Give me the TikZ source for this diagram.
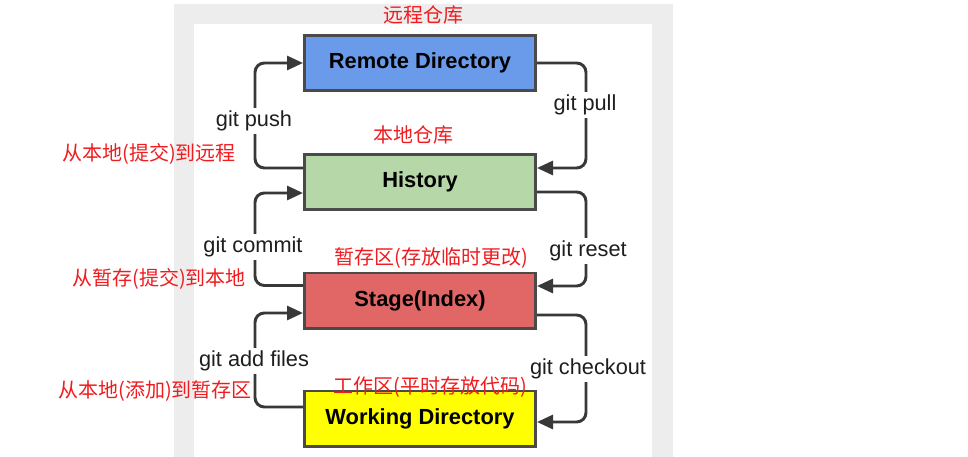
\documentclass[tikz,border=0pt]{standalone}
\usepackage{fontspec}
\setmainfont{Liberation Sans}
\newfontfamily\cjk{Noto Sans CJK SC}
\usetikzlibrary{arrows.meta,calc}
\definecolor{panel}{HTML}{ECEDEC}
\definecolor{boxline}{HTML}{4A4A4A}
\definecolor{linec}{HTML}{383838}
\definecolor{labc}{HTML}{1E1E1E}
\definecolor{cnred}{RGB}{240,28,32}
\definecolor{cblue}{RGB}{106,155,234}
\definecolor{cgreen}{RGB}{182,216,168}
\definecolor{cred}{RGB}{225,102,102}
\definecolor{cyellow}{RGB}{255,255,0}
\begin{document}
\begin{tikzpicture}[x=0.75pt,y=-0.75pt,
  box/.style={draw=boxline, line width=2pt, inner sep=0pt,
    minimum width=173.5pt, minimum height=41.5pt,
    font=\fontsize{16.4pt}{19pt}\selectfont\bfseries, text=black},
  conn/.style={draw=linec, line width=2.2pt, rounded corners=7pt,
    -{Triangle[length=12pt,width=10.5pt]}},
  glab/.style={fill=white, inner sep=2pt, text=labc,
    font=\fontsize{16.3pt}{19pt}\selectfont},
  cnlab/.style={inner sep=0pt, text=cnred, font=\cjk\fontsize{15pt}{18pt}\selectfont}]
\useasboundingbox (0,0) rectangle (968,457);
\fill[white] (0,0) rectangle (968,457);
\fill[panel] (174,4) rectangle (673,457);
\fill[white] (194,24) rectangle (652,457);

\node[box, fill=cblue] (remote) at (420,63) {Remote Directory};
\node[box, fill=cgreen] (hist) at (420,182) {History};
\node[box, fill=cred] (stage) at (420,300.5) {Stage(Index)};
\node[box, fill=cyellow] (work) at (420,418.5) {Working Directory};

\coordinate (L) at (255,0);
\coordinate (R) at (586,0);

% left side
\coordinate (pushS) at ($(hist.west)+(0,-14)$);
\coordinate (pushE) at (remote.west);
\coordinate (comS) at ($(stage.west)+(0,-15)$);
\coordinate (comE) at ($(hist.west)+(0,11)$);
\coordinate (addS) at ($(work.west)+(0,-11.5)$);
\coordinate (addE) at ($(stage.west)+(0,12.5)$);
% right side
\coordinate (pullS) at (remote.east);
\coordinate (pullE) at ($(hist.east)+(0,-14)$);
\coordinate (resS) at ($(hist.east)+(0,10)$);
\coordinate (resE) at ($(stage.east)+(0,-14.5)$);
\coordinate (coS) at ($(stage.east)+(0,14.5)$);
\coordinate (coE) at ($(work.east)+(0,3.5)$);

\draw[conn] (pushS) -| (L |- pushE) -- (pushE);
\draw[conn] (comS) -| (L |- comE) -- (comE);
\draw[conn] (addS) -| (L |- addE) -- (addE);
\draw[conn] (pullS) -| (R |- pullE) -- (pullE);
\draw[conn] (resS) -| (R |- resE) -- (resE);
\draw[conn] (coS) -| (R |- coE) -- (coE);

\node[glab] (lpush) at (254,121) {git push};
\node[glab] (lpull) at (585,105) {git pull};
\node[glab] (lcommit) at (253,247) {git commit};
\node[glab] (lreset) at (588,251) {git reset};
\node[glab] (ladd) at (254,361) {git add files};
\node[glab] (lco) at (588,369) {git checkout};

\node[cnlab] (cn1) at (423,15) {远程仓库};
\node[cnlab] (cn2) at (413,135) {本地仓库};
\node[cnlab] (cn3) at (149,154) {从本地(提交)到远程};
\node[cnlab] (cn4) at (159,279) {从暂存(提交)到本地};
\node[cnlab] (cn5) at (431,258) {暂存区(存放临时更改)};
\node[cnlab] (cn6) at (155,391) {从本地(添加)到暂存区};
\node[cnlab] (cn7) at (430,387) {工作区(平时存放代码)};
\end{tikzpicture}
\end{document}
